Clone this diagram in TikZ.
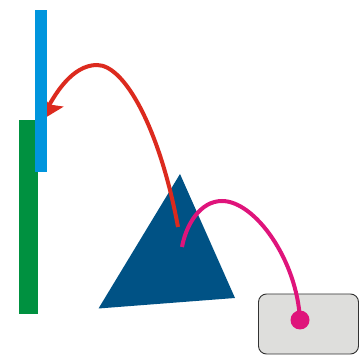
\documentclass[tikz,border=0pt]{standalone}
\usepackage{xcolor}
\usepackage{tikz}
\usetikzlibrary{arrows.meta, positioning}
\definecolor{barblue}{RGB}{0,149,221}
\definecolor{bargreen}{RGB}{0,145,64}
\definecolor{tridark}{RGB}{0,82,133}
\definecolor{arcred}{RGB}{220,42,30}
\definecolor{arcpink}{RGB}{223,20,123}
\definecolor{traygray}{RGB}{222,222,220}
\definecolor{trayline}{RGB}{50,50,50}

\begin{document}
\begin{tikzpicture}[
  x=1pt, y=1pt,
  bar/.style={rectangle, draw=none, inner sep=0pt, outer sep=0pt},
  tray/.style={rectangle, draw=trayline, fill=traygray, line width=0.9pt,
               minimum width=100pt, minimum height=60pt, rounded corners=8pt},
  pin/.style={circle, fill=arcpink, inner sep=0pt, minimum size=19pt},
  redflow/.style={-{Stealth[length=24pt, width=26pt, inset=5pt]}, line width=4pt, color=arcred},
  pinkflow/.style={line width=4pt, color=arcpink},
]
\useasboundingbox (0,0) rectangle (363,355);

% Triangle
\coordinate (apex) at (180,181);
\coordinate (lowleft) at (98.5,46.5);
\coordinate (lowright) at (235,57);
\fill[tridark] (apex) -- (lowleft) -- (lowright) -- cycle;

% Bars
\node[bar, fill=bargreen, minimum width=18.5pt, minimum height=194pt] (greenbar) at (28.25,138) {};

% Red arc
\coordinate (redtail) at (178,128);
\coordinate (redtop) at (97,290);
\coordinate (redhead) at (40,234);
\draw[redflow] (redtail) .. controls (160,225) and (125,290) .. (redtop)
  .. controls (72,290) and (55,260) .. (redhead);

\node[bar, fill=barblue, minimum width=11.5pt, minimum height=162.5pt] (bluebar) at (40.75,263.75) {};

% Tray and pin
\node[tray] (traybox) at (308.5,31) {};
\node[pin] (pindot) at (300,35) {};

% Pink arc
\coordinate (pinktop) at (222,154);
\coordinate (pinkend) at (182,108);
\draw[pinkflow] (pindot.center) .. controls (297,95) and (255,154) .. (pinktop)
  .. controls (200,154) and (186,130) .. (pinkend);

\end{tikzpicture}
\end{document}
